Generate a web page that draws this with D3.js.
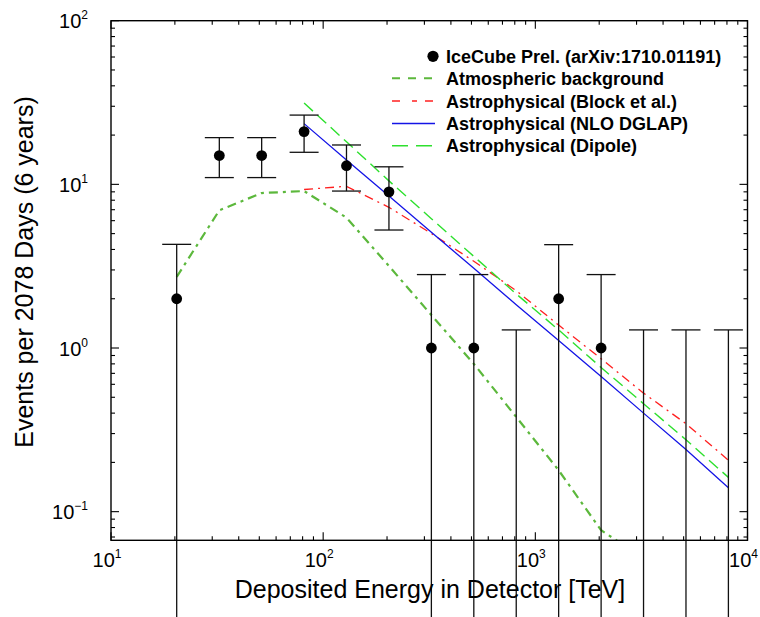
<!DOCTYPE html>
<html><head><meta charset="utf-8">
<script src="https://cdn.jsdelivr.net/npm/d3@7/dist/d3.min.js"></script>
<style>body{margin:0;background:#fff}svg{display:block}</style>
</head><body>
<svg id="c" width="760" height="617"></svg>
<script>
// ---- data ----
const energies = [20.4, 32.4, 51.3, 81.3, 128.8, 204.2, 323.6, 512.9, 812.8, 1288, 2042, 3236, 5129, 8128];
const events   = [2, 15, 15, 21, 13, 9, 1, 1, 0, 2, 1, 0, 0, 0];
const errHigh  = [4.3, 19.3, 19.3, 26.5, 17.4, 12.8, 2.81, 2.81, 1.29, 4.28, 2.81, 1.29, 1.29, 1.29];
const errLow   = [0.001, 11.0, 11.0, 15.7, 9.1, 5.26, 0.001, 0.001, 0.001, 0.001, 0.001, 0.001, 0.001, 0.001];

const atmEnergies = [20.4, 32.4, 51.3, 81.3, 128.8, 204.2, 323.6, 512.9, 812.8, 1288, 2042, 3236];
const atmValues   = [2.72, 6.94, 8.85, 9.1, 6.26, 3.17, 1.59, 0.80, 0.379, 0.179, 0.077, 0.052];

const astroEnergies = [81.3, 128.8, 204.2, 323.6, 512.9, 812.8, 1288, 2042, 3236, 5129, 8128];
const blockValues  = [9.3, 9.73, 7.24, 5.01, 3.39, 2.24, 1.38, 0.86, 0.53, 0.345, 0.206];
const dglapValues  = [23.5, 14.1, 8.5, 5.1, 3.07, 1.84, 1.11, 0.67, 0.40, 0.24, 0.14];
const dipoleValues = [31.4, 18.2, 10.5, 6.17, 3.63, 2.14, 1.29, 0.76, 0.457, 0.275, 0.162];

const xTickValues = [10, 100, 1000, 10000];
const xTickExps   = ["1", "2", "3", "4"];
const yTickValues = [0.1, 1, 10, 100];
const yTickExps   = ["\u22121", "0", "1", "2"];

const legendLabels = ["IceCube Prel. (arXiv:1710.01191)", "Atmospheric background",
  "Astrophysical (Block et al.)", "Astrophysical (NLO DGLAP)", "Astrophysical (Dipole)"];

// ---- layout ----
const svg = d3.select("#c");
const P = {left: 111, right: 747.5, top: 20.7, bottom: 540.3};
const x = d3.scaleLog().domain([10, 1e4]).range([P.left, P.right]);
const y = d3.scaleLog().domain([Math.pow(10, -1.175), 100]).range([P.bottom, P.top]);

svg.append("rect").attr("width", 760).attr("height", 617).attr("fill", "#fff");
svg.append("defs").append("clipPath").attr("id", "clip")
  .append("rect").attr("x", P.left).attr("y", P.top)
  .attr("width", P.right - P.left).attr("height", P.bottom - P.top);

const font = "'Liberation Sans', Arial, Helvetica, sans-serif";

// ---- curves ----
const line = d3.line().x(d => x(d[0])).y(d => y(d[1]));
const curves = svg.append("g").attr("clip-path", "url(#clip)");
const styles = {
  atm:    {color: "#5cb83c", w: 2.2, dash: "9,5,3,5"},
  block:  {color: "#ff2020", w: 1.3, dash: "9,5,2,5"},
  dglap:  {color: "#1414e6", w: 1.3, dash: null},
  dipole: {color: "#2ee02e", w: 1.4, dash: "12,6"}
};
function drawCurve(xs, vs, st) {
  curves.append("path").datum(xs.map((e, i) => [e, vs[i]]))
    .attr("d", line).attr("fill", "none")
    .attr("stroke", st.color).attr("stroke-width", st.w)
    .attr("stroke-dasharray", st.dash);
}
drawCurve(atmEnergies, atmValues, styles.atm);
drawCurve(astroEnergies, blockValues, styles.block);
drawCurve(astroEnergies, dglapValues, styles.dglap);
drawCurve(astroEnergies, dipoleValues, styles.dipole);

// ---- error bars (not clipped) ----
const eb = svg.append("g").attr("stroke", "#111").attr("stroke-width", 1.3);
const capHalf = 14.5;
energies.forEach((e, i) => {
  const cx = x(e);
  eb.append("line").attr("x1", cx).attr("x2", cx).attr("y1", y(errLow[i])).attr("y2", y(errHigh[i]));
  eb.append("line").attr("x1", cx - capHalf).attr("x2", cx + capHalf).attr("y1", y(errHigh[i])).attr("y2", y(errHigh[i]));
  eb.append("line").attr("x1", cx - capHalf).attr("x2", cx + capHalf).attr("y1", y(errLow[i])).attr("y2", y(errLow[i]));
});
svg.append("g").selectAll("circle").data(energies.map((e, i) => [e, events[i]]).filter(d => d[1] > 0))
  .join("circle").attr("cx", d => x(d[0])).attr("cy", d => y(d[1])).attr("r", 5.4).attr("fill", "#000");

// ---- frame and ticks ----
const axes = svg.append("g").attr("stroke", "#000");
axes.append("rect").attr("x", P.left).attr("y", P.top).attr("width", P.right - P.left)
  .attr("height", P.bottom - P.top).attr("fill", "none").attr("stroke-width", 1.4);
const tk = axes.append("g").attr("stroke-width", 1.1);
function minors(lo, hi) {
  const out = [];
  for (let k = Math.floor(Math.log10(lo)); k <= Math.ceil(Math.log10(hi)); k++)
    for (let m = 2; m <= 9; m++) { const v = m * Math.pow(10, k); if (v > lo && v < hi) out.push(v); }
  return out;
}
const xd = x.domain(), yd = y.domain();
xTickValues.forEach(v => {
  const px = x(v);
  tk.append("line").attr("x1", px).attr("x2", px).attr("y1", P.bottom).attr("y2", P.bottom - 8);
  tk.append("line").attr("x1", px).attr("x2", px).attr("y1", P.top).attr("y2", P.top + 8);
});
minors(xd[0], xd[1]).forEach(v => {
  const px = x(v);
  tk.append("line").attr("x1", px).attr("x2", px).attr("y1", P.bottom).attr("y2", P.bottom - 4);
  tk.append("line").attr("x1", px).attr("x2", px).attr("y1", P.top).attr("y2", P.top + 4);
});
yTickValues.forEach(v => {
  const py = y(v);
  tk.append("line").attr("y1", py).attr("y2", py).attr("x1", P.left).attr("x2", P.left + 8);
  tk.append("line").attr("y1", py).attr("y2", py).attr("x1", P.right).attr("x2", P.right - 8);
});
minors(yd[0], yd[1]).forEach(v => {
  const py = y(v);
  tk.append("line").attr("y1", py).attr("y2", py).attr("x1", P.left).attr("x2", P.left + 4);
  tk.append("line").attr("y1", py).attr("y2", py).attr("x1", P.right).attr("x2", P.right - 4);
});

// ---- tick labels ----
const lab = svg.append("g").attr("font-family", font).attr("fill", "#000");
xTickValues.forEach((v, i) => {
  const t = lab.append("text").attr("x", x(v) - 4).attr("y", 567).attr("text-anchor", "middle").attr("font-size", 20);
  t.append("tspan").text("10");
  t.append("tspan").attr("font-size", 12).attr("dy", -9).text(xTickExps[i]);
});
yTickValues.forEach((v, i) => {
  const t = lab.append("text").attr("x", 88).attr("y", y(v) + 7.5).attr("text-anchor", "end").attr("font-size", 20);
  t.append("tspan").text("10");
  t.append("tspan").attr("font-size", 12).attr("dy", -9).text(yTickExps[i]);
});

// ---- axis titles ----
lab.append("text").attr("x", 430).attr("y", 598).attr("text-anchor", "middle").attr("font-size", 25)
  .text("Deposited Energy in Detector [TeV]");
lab.append("text").attr("transform", "translate(33,272) rotate(-90)").attr("text-anchor", "middle")
  .attr("font-size", 25).text("Events per 2078 Days (6 years)");

// ---- legend ----
const lg = svg.append("g").attr("font-family", font).attr("font-weight", "bold").attr("font-size", 18);
const baselines = [63.3, 84.8, 107.5, 130, 152.3];
lg.append("circle").attr("cx", 433).attr("cy", baselines[0] - 7).attr("r", 5.6).attr("fill", "#000");
const legendStyles = [null, {color: "#5cb83c", w: 2, dash: "8,8"}, {color: "#ff2020", w: 1.4, dash: "8,12,5,8"},
  {color: "#1414e6", w: 1.4, dash: null}, {color: "#2ee02e", w: 1.6, dash: "16,8"}];
legendLabels.forEach((s, i) => {
  lg.append("text").attr("x", 446).attr("y", baselines[i]).text(s);
  const st = legendStyles[i];
  if (st) lg.append("line").attr("x1", 392).attr("x2", 435).attr("y1", baselines[i] - 6.5).attr("y2", baselines[i] - 6.5)
    .attr("stroke", st.color).attr("stroke-width", st.w).attr("stroke-dasharray", st.dash);
});
</script>
</body></html>
